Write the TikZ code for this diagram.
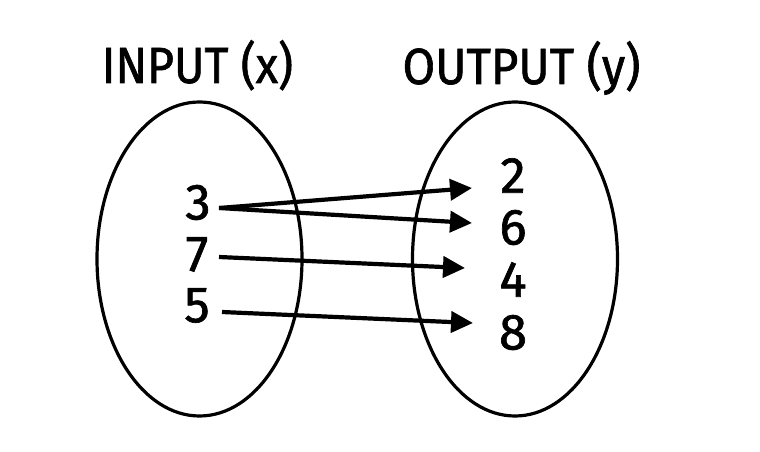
\documentclass[tikz,border=0pt]{standalone}
\usepackage{fontspec}
\setmainfont{Fira Sans}[FakeBold=1.3]
\usetikzlibrary{arrows.meta,shapes.geometric}
\begin{document}
\begin{tikzpicture}[x=1bp,y=-1bp,
  setoval/.style={ellipse, draw, line width=3.2bp, minimum width=205bp, minimum height=314bp, inner sep=0pt},
  title/.style={anchor=base, inner sep=0pt, font=\fontsize{50.8bp}{60bp}\selectfont},
  num/.style={inner sep=0pt, font=\fontsize{50.8bp}{60bp}\selectfont},
  arr/.style={line width=4.2bp, -{Triangle[length=22bp,width=21bp]}}]
\useasboundingbox (0,0) rectangle (760,452);
\fill[white] (0,0) rectangle (760,452);
\node[setoval] (L) at (199.5,259) {};
\node[setoval] (R) at (515,259) {};
\node[title] (tin) at (197.5,83) {\scalebox{0.91}[1]{INPUT (x)}};
\node[title] (tout) at (521.5,84) {\scalebox{0.93}[1]{OUTPUT (y)}};
\node[num] (n3) at (198,202.5) {3};
\node[num] (n7) at (197,254.5) {7};
\node[num] (n5) at (197,305.5) {5};
\node[num] (n2) at (513,175.5) {2};
\node[num] (n6) at (513,227.5) {6};
\node[num] (n4) at (513,279.5) {4};
\node[num] (n8) at (513,332.5) {8};
\draw[arr] ([shift={(21,5.5)}]n3.center) -- ([shift={(-41,12.5)}]n2.center);
\draw[arr] ([shift={(21,5.5)}]n3.center) -- ([shift={(-41,-4.5)}]n6.center);
\draw[arr] ([shift={(22,2.5)}]n7.center) -- ([shift={(-48,-11.5)}]n4.center);
\draw[arr] ([shift={(25,6.5)}]n5.center) -- ([shift={(-40,-9.5)}]n8.center);
\end{tikzpicture}
\end{document}
